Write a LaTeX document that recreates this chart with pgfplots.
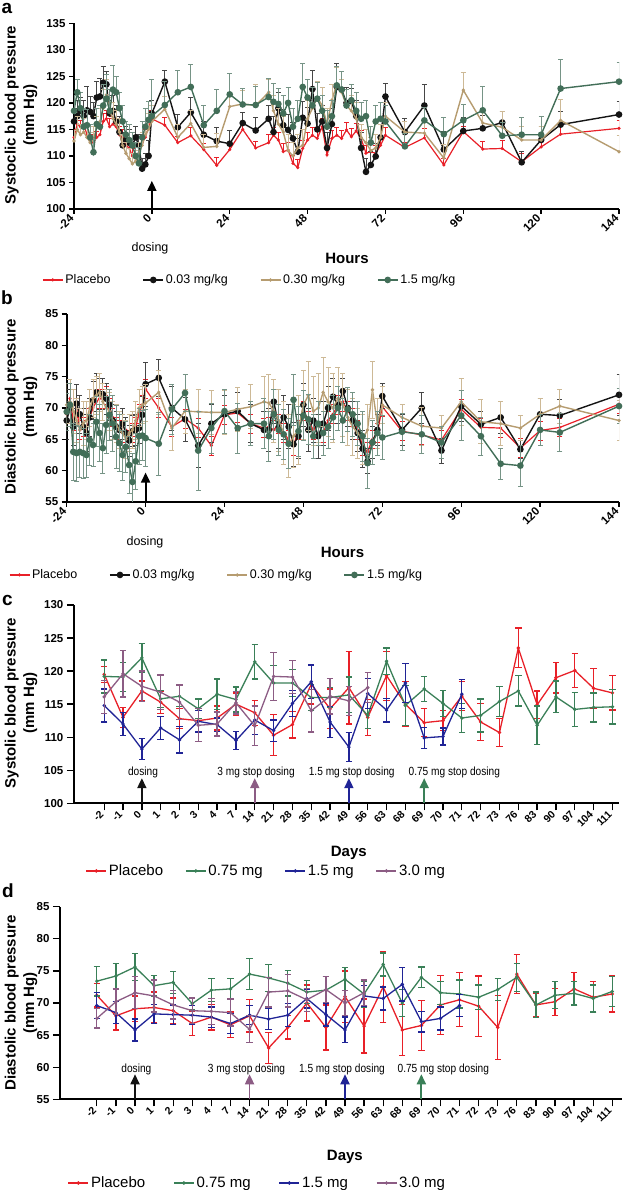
\documentclass[border=0pt]{standalone}
\usepackage{pgfplots}
\pgfplotsset{compat=1.18}
\usepackage{pgfplotstable}
\usepackage{fontspec}
\setmainfont{Liberation Sans}
\newfontfamily\narrowfont[FakeStretch=0.86]{Liberation Sans}
\usetikzlibrary{arrows.meta}

\definecolor{pred}{RGB}{232,32,40}
\definecolor{pblack}{RGB}{20,20,20}
\definecolor{pgray}{RGB}{70,70,70}
\definecolor{ptan}{RGB}{182,156,112}
\definecolor{ptanlt}{RGB}{205,185,150}
\definecolor{pgreen}{RGB}{66,110,88}
\definecolor{pgreenlt}{RGB}{118,148,134}
\definecolor{cgreen}{RGB}{58,128,88}
\definecolor{cblue}{RGB}{32,36,150}
\definecolor{cpurple}{RGB}{140,92,132}

\pgfplotstableread{
h P Pe B Be T Te G Ge
-24 113.5 1.5 116.5 2.5 112.8 2.0 118.5 3.0
-23 116.0 1.5 117.5 3.0 115.0 2.5 122.0 2.5
-22 115.5 1.2 118.5 2.5 114.0 2.0 119.0 3.0
-21 116.0 1.5 117.5 3.0 114.5 2.5 115.5 3.5
-20 114.0 1.5 118.6 4.5 113.5 2.5 115.8 3.0
-19 113.0 1.5 118.3 3.0 112.5 2.0 113.5 2.5
-18 112.5 1.5 117.5 2.5 113.0 2.5 110.7 2.5
-17 113.5 1.2 121.0 3.0 115.5 2.0 116.0 3.0
-16 114.0 1.5 121.2 3.5 116.5 2.5 115.5 4.0
-15 116.5 1.5 123.8 3.0 119.0 3.5 119.5 4.0
-14 117.0 1.5 123.5 2.5 121.5 3.0 120.8 4.5
-13 115.5 1.5 118.0 2.5 118.5 2.5 118.5 4.0
-12 116.0 1.5 118.5 3.0 117.0 3.0 122.5 4.5
-11 115.5 1.5 116.5 3.0 116.0 2.5 122.0 3.0
-10 114.0 1.5 114.5 3.0 114.5 2.5 119.0 3.0
-9 113.5 1.5 112.0 2.5 112.0 2.0 116.5 3.0
-8 112.0 1.2 113.0 2.5 110.5 2.0 114.0 2.5
-7 111.5 1.2 112.5 2.5 109.5 2.0 113.0 3.0
-6 110.0 1.5 112.0 2.5 108.5 2.0 112.0 2.5
-5 109.5 1.5 113.5 2.0 109.0 2.0 110.0 2.5
-4 110.5 1.5 112.0 2.0 110.5 2.0 108.6 3.0
-3 112.5 1.5 107.6 2.0 112.0 2.5 113.5 3.0
-2 113.5 1.5 108.4 2.0 114.0 2.5 115.5 3.5
-1 115.5 1.5 110.0 3.0 115.0 3.0 116.8 3.5
0 117.0 1.5 118.0 2.5 116.5 3.0 117.5 7.0
4 115.8 1.5 124.0 2.2 118.8 2.5 119.6 4.5
8 112.5 1.2 115.4 2.5 113.5 2.5 122.0 4.2
12 113.8 1.5 118.2 2.8 116.1 2.5 123.0 4.2
16 111.2 1.2 114.0 2.5 111.6 2.5 115.8 3.8
20 108.2 1.5 112.8 2.5 111.8 2.5 118.5 4.0
24 111.2 1.2 112.3 2.5 119.3 2.5 121.6 4.0
28 115.0 1.5 116.2 2.0 119.8 2.5 119.7 3.0
32 111.5 1.2 114.8 2.5 119.5 4.0 119.6 3.5
36 112.5 1.5 117.0 2.5 122.0 2.5 121.1 3.5
37.5 113.9 1.5 114.5 3.0 118.5 3.0 120.2 3.5
39 113.0 1.5 119.0 3.0 116.0 3.0 119.8 3.0
40.5 110.8 1.5 115.8 3.0 114.5 3.0 118.0 3.5
42 111.1 1.5 114.9 3.0 111.0 3.0 120.0 3.0
43.5 108.6 1.5 113.3 3.0 110.0 2.5 115.5 3.5
45 107.8 1.5 110.8 2.5 111.5 2.5 117.0 3.5
46.5 111.4 1.5 117.2 3.0 112.0 3.0 123.0 4.5
48 113.0 1.5 116.1 3.0 117.0 3.5 121.0 3.5
49.5 113.9 1.5 122.6 3.5 119.0 4.0 119.5 3.5
51 113.3 1.5 115.0 3.0 121.0 3.0 120.8 3.0
52.5 115.5 1.5 116.5 3.0 119.5 3.5 118.5 3.0
54 110.2 1.5 111.5 3.0 116.0 3.0 115.5 3.0
55.5 113.3 1.5 116.0 3.0 120.5 3.0 117.5 3.0
57 113.9 1.5 123.0 4.5 123.6 3.0 123.3 3.5
58.5 113.3 1.5 122.5 3.5 122.0 2.5 122.5 3.5
60 114.9 1.5 120.0 3.0 119.5 3.0 119.5 3.0
61.5 113.6 1.5 120.3 2.5 118.5 3.0 120.5 3.0
63 114.7 1.5 117.5 3.0 117.0 3.0 118.5 3.5
64.5 113.3 1.5 111.5 3.0 113.5 2.5 117.0 3.0
66 110.5 1.5 107.0 2.5 112.5 2.5 117.5 3.0
67.5 110.8 1.5 108.3 2.5 111.0 2.5 112.5 3.0
69 110.5 1.5 109.9 2.5 111.5 2.5 116.5 3.0
70.5 112.0 1.5 113.5 2.5 113.5 2.5 117.0 3.0
72 113.9 1.5 121.2 2.5 117.5 2.5 116.5 3.0
78 111.6 1.0 114.5 2.5 114.5 2.0 111.8 2.5
84 113.4 1.8 119.5 4.0 114.3 2.5 116.7 2.5
90 108.3 1.2 111.2 3.5 109.6 2.5 114.1 3.2
96 114.6 1.0 114.7 2.5 122.4 3.3 116.7 3.0
102 111.3 1.5 115.2 2.5 116.2 2.5 118.6 4.5
108 111.4 1.5 116.3 2.0 115.4 3.0 113.8 2.5
114 108.9 1.5 108.8 2.0 113.0 2.5 114.0 3.3
120 111.7 1.2 113.0 2.5 113.0 2.5 114.0 3.5
126 114.1 1.5 115.9 2.5 116.7 4.0 122.7 5.4
144 115.2 1.5 117.8 2.4 110.8 3.0 124.0 3.7
}\tabA

\pgfplotstableread{
h P Pe B Be T Te G Ge
-24 69.0 1.5 68.0 3.0 70.5 3.5 69.4 3.0
-23 71.5 1.5 70.0 3.0 71.0 3.5 70.5 3.5
-22 68.0 1.5 67.0 3.0 69.5 3.5 63.0 4.5
-21 70.0 1.5 70.7 3.0 68.0 3.5 62.8 4.5
-20 66.5 1.5 69.0 3.0 66.5 3.5 63.0 4.0
-19 67.0 1.5 67.0 3.0 67.5 3.5 62.8 4.0
-18 66.5 1.5 66.0 3.0 68.0 3.0 62.5 3.5
-17 68.5 1.5 68.5 3.0 70.0 3.0 64.9 4.0
-16 70.0 1.5 71.2 3.0 71.5 3.0 64.1 3.5
-15 71.0 1.5 72.5 3.0 72.0 3.0 67.8 4.0
-14 71.5 1.5 72.3 2.5 72.5 3.0 66.0 4.5
-13 71.5 1.5 72.2 2.5 71.0 3.0 63.6 4.0
-12 72.0 1.5 71.5 2.5 70.0 3.0 67.3 4.5
-11 70.0 1.5 70.5 2.5 69.5 3.0 68.9 4.0
-10 68.5 1.5 68.0 2.5 68.0 3.0 67.5 4.5
-9 67.0 1.5 67.0 2.5 67.5 3.0 65.4 5.0
-8 66.5 1.5 66.5 2.5 66.5 3.0 64.4 4.5
-7 66.0 1.5 67.5 2.5 66.0 3.0 62.5 4.0
-6 66.5 1.5 66.0 2.5 65.0 3.0 63.8 4.0
-5 65.0 1.5 64.8 2.5 66.0 3.0 60.9 4.5
-4 66.0 1.5 66.3 2.5 66.5 3.0 58.2 4.5
-3 67.0 1.5 66.5 2.5 68.0 3.0 61.5 4.5
-2 69.0 1.5 66.8 2.5 70.0 3.0 65.5 4.5
-1 70.5 1.5 68.9 3.0 70.5 3.0 65.6 4.0
0 73.0 1.5 73.8 3.5 70.8 3.0 65.2 4.5
4 70.0 1.5 74.8 3.0 72.5 3.5 64.3 5.0
8 67.0 1.5 70.0 3.5 66.8 3.5 69.8 4.0
12 68.3 1.5 68.2 3.5 69.5 3.5 72.4 3.0
16 66.8 1.5 64.0 3.5 69.4 3.5 63.2 6.3
20 64.0 1.5 67.5 3.0 69.3 3.5 66.8 4.0
24 68.9 1.5 69.0 3.0 69.3 3.5 69.5 3.5
28 69.2 1.5 69.5 3.0 69.8 3.5 66.8 4.0
32 67.5 1.5 67.5 3.0 70.2 3.5 67.5 3.5
36 66.8 1.5 66.5 3.0 71.0 4.0 67.5 4.0
37.5 67.0 1.5 66.5 3.5 70.8 4.5 65.5 4.0
39 66.5 1.5 71.0 3.5 69.5 5.0 69.0 4.0
40.5 67.5 1.5 67.0 3.5 68.0 5.0 66.5 4.0
42 66.0 1.5 68.5 3.5 66.0 5.0 65.8 4.0
43.5 65.0 1.5 67.0 3.5 64.0 5.0 64.3 4.0
45 64.0 1.5 64.2 3.5 65.5 5.0 71.3 4.0
46.5 66.5 1.5 65.5 3.5 66.5 5.5 66.3 4.0
48 69.5 1.5 70.5 3.5 70.5 5.5 68.8 4.0
49.5 68.0 1.5 66.5 3.5 72.0 5.5 68.2 4.0
51 66.5 1.5 68.0 3.5 69.5 5.5 65.5 3.5
52.5 67.5 1.5 65.5 3.5 70.0 5.5 67.5 3.5
54 66.0 1.5 67.5 3.5 72.5 5.5 66.0 3.5
55.5 68.0 1.5 70.0 3.5 71.0 5.5 67.0 3.5
57 69.0 1.5 71.8 3.0 70.0 5.5 68.5 3.5
58.5 70.5 1.5 70.5 3.0 71.5 5.0 70.0 3.5
60 71.0 1.5 72.7 2.0 70.5 5.0 68.0 3.5
61.5 69.5 1.5 70.0 3.0 68.5 4.5 69.8 3.5
63 68.5 1.5 68.0 3.0 67.0 4.5 69.0 3.5
64.5 66.5 1.5 66.0 3.0 66.0 4.0 67.5 3.5
66 64.0 1.5 63.5 3.0 65.0 4.0 65.5 4.0
67.5 63.0 1.5 61.5 2.0 66.5 4.0 61.2 4.0
69 65.0 1.5 64.5 2.5 72.9 4.5 64.5 3.5
70.5 66.0 1.5 66.5 2.5 67.5 4.0 66.0 3.5
72 70.2 1.5 71.9 2.0 70.5 3.0 65.3 3.5
78 66.3 1.5 66.5 2.5 68.5 2.0 66.2 3.0
84 65.7 1.5 70.0 2.5 67.1 3.0 65.8 3.0
90 64.9 1.5 63.2 2.0 66.8 2.0 64.5 2.5
96 69.8 1.5 70.3 2.5 71.0 3.7 68.8 4.0
102 66.9 1.5 67.4 2.0 67.8 3.5 65.5 3.0
108 66.8 1.5 68.5 2.5 67.5 3.5 61.1 2.5
114 63.6 1.5 63.4 1.5 66.8 2.0 60.8 3.3
120 66.4 1.5 69.0 2.5 69.0 2.5 66.5 2.5
126 66.9 1.5 68.8 2.5 70.3 2.7 66.1 3.0
144 70.6 1.5 72.1 3.3 68.0 3.2 70.3 2.8
}\tabB

\pgfplotstableread{
i P Pe G Ge B Be U Ue
0 119.5 1.2 119.2 2.5 114.8 2.5 116.1 2.5
1 113.0 1.5 119.1 2.2 112.0 1.7 119.6 3.5
2 117.0 1.5 122.0 2.2 108.2 1.6 117.7 2.3
3 115.3 1.7 115.8 1.3 111.4 1.7 116.8 2.6
4 112.8 1.5 116.2 1.6 109.6 2.0 115.3 2.6
5 112.5 1.8 114.3 1.5 112.4 1.6 111.8 2.5
6 112.9 1.8 116.5 2.3 111.9 1.0 112.0 1.8
7 115.0 1.7 115.7 1.9 109.5 1.4 115.2 1.7
8 113.7 1.9 121.4 2.6 112.6 2.2 111.7 3.0
9 110.3 3.1 118.2 2.6 111.0 1.6 119.2 3.6
10 111.9 2.0 118.2 2.0 115.1 2.0 119.1 2.5
11 118.0 3.0 116.0 2.0 118.4 2.5 114.0 3.2
12 114.3 3.0 116.0 1.5 112.3 2.3 116.2 2.7
13 117.5 5.5 116.4 2.7 108.5 2.2 115.5 2.2
14 113.0 2.7 113.3 2.0 116.6 2.3 117.5 2.3
15 119.3 3.7 121.5 2.0 114.1 1.8 nan nan
16 115.0 3.4 114.8 3.0 118.2 3.0 nan nan
17 112.2 2.1 117.3 1.9 109.9 1.6 nan nan
18 112.5 1.5 115.1 2.0 110.1 1.3 nan nan
19 116.2 2.2 112.9 2.2 116.5 2.2 nan nan
20 112.3 2.8 113.3 2.5 nan nan nan nan
21 110.7 2.1 115.4 2.3 nan nan nan nan
22 123.5 3.0 117.0 2.3 nan nan nan nan
23 114.9 2.1 111.8 2.9 nan nan nan nan
24 119.0 2.3 116.1 2.4 nan nan nan nan
25 120.1 2.6 114.2 2.6 nan nan nan nan
26 117.4 3.0 114.5 2.2 nan nan nan nan
27 116.7 2.6 114.6 2.6 nan nan nan nan
}\tabC

\pgfplotstableread{
i P Pe G Ge B Be U Ue
0 71.2 1.8 73.4 2.3 69.6 2.0 67.6 1.5
1 68.0 2.2 74.2 2.0 68.5 1.7 70.2 2.0
2 69.1 2.0 75.6 2.1 65.8 1.7 71.6 2.5
3 69.3 2.4 72.7 1.6 68.3 1.5 71.1 2.5
4 68.8 2.0 73.2 1.7 68.2 1.5 69.7 2.2
5 66.8 1.9 69.9 1.0 68.1 1.5 68.8 2.0
6 67.8 2.0 72.0 1.8 67.8 1.6 68.7 2.0
7 66.6 2.0 72.2 1.6 66.8 1.6 68.5 2.1
8 68.0 2.5 74.5 2.4 68.1 1.5 65.9 2.1
9 63.0 2.4 73.9 2.1 67.5 1.6 71.7 2.3
10 66.2 1.8 73.1 2.0 68.1 1.8 71.9 2.5
11 70.0 2.8 71.7 1.8 70.7 1.5 70.5 1.8
12 66.2 3.5 72.0 2.1 68.2 1.8 72.1 2.0
13 71.0 4.0 73.7 1.8 65.8 2.0 70.0 2.0
14 66.4 4.2 71.4 2.0 71.1 1.6 71.6 2.0
15 72.5 5.5 76.0 1.8 70.7 1.8 nan nan
16 65.8 4.0 70.0 2.1 72.9 2.6 nan nan
17 66.5 3.9 74.0 1.6 67.1 1.6 nan nan
18 69.7 4.6 71.6 1.8 67.6 1.8 nan nan
19 70.5 4.2 71.4 2.2 69.6 1.7 nan nan
20 69.5 4.7 70.9 1.9 nan nan nan nan
21 66.2 5.0 72.1 1.7 nan nan nan nan
22 74.5 3.0 74.0 2.2 nan nan nan nan
23 69.7 1.8 69.7 2.0 nan nan nan nan
24 70.2 2.1 71.2 2.1 nan nan nan nan
25 72.2 2.5 71.5 1.8 nan nan nan nan
26 70.9 2.4 70.7 2.1 nan nan nan nan
27 71.4 2.8 71.8 2.3 nan nan nan nan
}\tabD

\pgfplotsset{
  gp/.style={scale only axis, axis x line*=bottom, axis y line*=left,
    axis line style={line width=1.6pt},
    tick style={line width=1.3pt, black},
    tick align=outside, major tick length=5pt,
    ticklabel style={font=\bfseries\fontsize{11.5}{13}\selectfont},
    xticklabel style={rotate=45, anchor=east},
    clip mode=individual,
    legend style={draw=none, fill=none, legend columns=4, inner sep=0pt,
      anchor=west, legend cell align=left},
    legend image code/.code={\draw[mark repeat=2,mark phase=2,##1]
      plot coordinates {(0pt,0pt) (10pt,0pt) (20pt,0pt)};},
  },
  ebA/.style={error bars/.cd, y dir=plus, y explicit,
    error bar style={line width=0.8pt, color=#1},
    error mark options={rotate=90, mark size=2.5pt, line width=0.8pt, color=#1}},
  ebB/.style={error bars/.cd, y dir=both, y explicit,
    error bar style={line width=0.8pt, color=#1},
    error mark options={rotate=90, mark size=2.5pt, line width=0.8pt, color=#1}},
  ebC/.style={error bars/.cd, y dir=both, y explicit,
    error bar style={line width=1.3pt, color=#1},
    error mark options={rotate=90, mark size=3.2pt, line width=1.3pt, color=#1}},
}

\begin{document}
\begin{tikzpicture}[x=1pt,y=1pt]
\useasboundingbox (0,0) rectangle (623,1190);

% ---------------- panel a
\begin{axis}[gp, at={(74pt,981pt)}, anchor=south west, width=545pt, height=185.7pt,
  xmin=-24, xmax=144, ymin=100, ymax=135,
  xtick={-24,0,24,48,72,96,120,144}, xticklabels={-24,0,24,48,72,96,120,144},
  ytick={100,105,110,115,120,125,130,135}, yticklabels={100,105,110,115,120,125,130,135},
  legend style={at={(-0.0587,-0.382)}, font=\fontsize{12.5}{14}\selectfont,
    /tikz/every even column/.append style={column sep=30pt}}]
\addplot[color=pred, line width=1.2pt, mark=*, mark size=0.9pt, ebA=pred] table[x=h,y=P,y error=Pe]{\tabA};
\addlegendentry{Placebo}
\addplot[color=pblack, line width=1.4pt, mark=*, mark size=2.6pt, ebA=pgray] table[x=h,y=B,y error=Be]{\tabA};
\addlegendentry{0.03 mg/kg}
\addplot[color=ptan, line width=1.4pt, mark=*, mark size=0.9pt, ebA=ptanlt] table[x=h,y=T,y error=Te]{\tabA};
\addlegendentry{0.30 mg/kg}
\addplot[color=pgreen, line width=1.4pt, mark=*, mark size=2.6pt, ebA=pgreenlt] table[x=h,y=G,y error=Ge]{\tabA};
\addlegendentry{1.5 mg/kg}
\draw[line width=1.8pt, -{Triangle[width=9pt,length=10pt]}] (axis cs:0,100) -- (axis cs:0,105.3);
\end{axis}

% ---------------- panel b
\begin{axis}[gp, at={(66.7pt,688pt)}, anchor=south west, width=552.3pt, height=188pt,
  xmin=-24, xmax=144, ymin=55, ymax=85,
  xtick={-24,0,24,48,72,96,120,144}, xticklabels={-24,0,24,48,72,96,120,144},
  ytick={55,60,65,70,75,80,85}, yticklabels={55,60,65,70,75,80,85},
  legend style={at={(-0.105,-0.388)}, font=\fontsize{12.5}{14}\selectfont,
    /tikz/every even column/.append style={column sep=30pt}}]
\addplot[color=pred, line width=1.2pt, mark=*, mark size=0.9pt, ebB=pred] table[x=h,y=P,y error=Pe]{\tabB};
\addlegendentry{Placebo}
\addplot[color=pblack, line width=1.4pt, mark=*, mark size=2.6pt, ebB=pgray] table[x=h,y=B,y error=Be]{\tabB};
\addlegendentry{0.03 mg/kg}
\addplot[color=ptan, line width=1.4pt, mark=*, mark size=0.9pt, ebB=ptanlt] table[x=h,y=T,y error=Te]{\tabB};
\addlegendentry{0.30 mg/kg}
\addplot[color=pgreen, line width=1.4pt, mark=*, mark size=2.6pt, ebB=pgreenlt] table[x=h,y=G,y error=Ge]{\tabB};
\addlegendentry{1.5 mg/kg}
\draw[line width=1.8pt, -{Triangle[width=9pt,length=10pt]}] (axis cs:0,55) -- (axis cs:0,59.7);
\end{axis}

% ---------------- panel c
\begin{axis}[gp, at={(73.9pt,386.7pt)}, anchor=south west, width=545.1pt, height=198.3pt,
  xmin=-1.61, xmax=27.35, ymin=100, ymax=130, major tick length=7pt,
  xtick={0,...,27}, xticklabels={-2,-1,0,1,2,3,4,7,14,21,28,35,42,49,56,63,68,69,70,71,72,73,76,83,90,97,104,111},
  xticklabel style={font=\bfseries\fontsize{10.5}{12}\selectfont},
  ytick={100,105,110,115,120,125,130}, yticklabels={100,105,110,115,120,125,130},
  legend style={at={(0.0211,-0.341)}, font=\fontsize{15}{17}\selectfont,
    /tikz/every even column/.append style={column sep=20pt}}]
\addplot[color=pred, line width=1.3pt, mark=*, mark size=1pt, ebC=pred] table[x=i,y=P,y error=Pe]{\tabC};
\addlegendentry{Placebo}
\addplot[color=cgreen, line width=1.3pt, mark=*, mark size=1pt, ebC=cgreen] table[x=i,y=G,y error=Ge]{\tabC};
\addlegendentry{0.75 mg}
\addplot[color=cblue, line width=1.3pt, mark=*, mark size=1pt, ebC=cblue] table[x=i,y=B,y error=Be]{\tabC};
\addlegendentry{1.5 mg}
\addplot[color=cpurple, line width=1.3pt, mark=*, mark size=1pt, ebC=cpurple] table[x=i,y=U,y error=Ue]{\tabC};
\addlegendentry{3.0 mg}
\draw[pblack, line width=1.8pt, -{Triangle[width=9pt,length=10pt]}] (axis cs:2,100) -- (axis cs:2,103.8);
\draw[cpurple, line width=1.8pt, -{Triangle[width=9pt,length=10pt]}] (axis cs:8,100) -- (axis cs:8,103.8);
\draw[cblue, line width=1.8pt, -{Triangle[width=9pt,length=10pt]}] (axis cs:13,100) -- (axis cs:13,103.8);
\draw[cgreen, line width=1.8pt, -{Triangle[width=9pt,length=10pt]}] (axis cs:17,100) -- (axis cs:17,103.8);
\node[font=\narrowfont\fontsize{11.8}{12}\selectfont] at (axis cs:2.06,104.7) {dosing};
\node[font=\narrowfont\fontsize{11.8}{12}\selectfont] at (axis cs:8.07,104.7) {3 mg stop dosing};
\node[font=\narrowfont\fontsize{11.8}{12}\selectfont] at (axis cs:13.15,104.7) {1.5 mg stop dosing};
\node[font=\narrowfont\fontsize{11.8}{12}\selectfont] at (axis cs:18.6,104.7) {0.75 mg stop dosing};
\end{axis}

% ---------------- panel d
\begin{axis}[gp, at={(60pt,90.7pt)}, anchor=south west, width=561.8pt, height=192.6pt,
  xmin=-1.93, xmax=27.5, ymin=55, ymax=85, major tick length=7pt,
  xtick={0,...,27}, xticklabels={-2,-1,0,1,2,3,4,7,14,21,28,35,42,49,56,63,68,69,70,71,72,73,76,83,90,97,104,111},
  xticklabel style={font=\bfseries\fontsize{10.5}{12}\selectfont},
  ytick={55,60,65,70,75,80,85}, yticklabels={55,60,65,70,75,80,85},
  legend style={at={(0.0134,-0.4346)}, font=\fontsize{15}{17}\selectfont,
    /tikz/every even column/.append style={column sep=26pt}}]
\addplot[color=pred, line width=1.3pt, mark=*, mark size=1pt, ebC=pred] table[x=i,y=P,y error=Pe]{\tabD};
\addlegendentry{Placebo}
\addplot[color=cgreen, line width=1.3pt, mark=*, mark size=1pt, ebC=cgreen] table[x=i,y=G,y error=Ge]{\tabD};
\addlegendentry{0.75 mg}
\addplot[color=cblue, line width=1.3pt, mark=*, mark size=1pt, ebC=cblue] table[x=i,y=B,y error=Be]{\tabD};
\addlegendentry{1.5 mg}
\addplot[color=cpurple, line width=1.3pt, mark=*, mark size=1pt, ebC=cpurple] table[x=i,y=U,y error=Ue]{\tabD};
\addlegendentry{3.0 mg}
\draw[pblack, line width=1.8pt, -{Triangle[width=9pt,length=10pt]}] (axis cs:2,55) -- (axis cs:2,58.9);
\draw[cpurple, line width=1.8pt, -{Triangle[width=9pt,length=10pt]}] (axis cs:8,55) -- (axis cs:8,58.9);
\draw[cblue, line width=1.8pt, -{Triangle[width=9pt,length=10pt]}] (axis cs:13,55) -- (axis cs:13,58.9);
\draw[cgreen, line width=1.8pt, -{Triangle[width=9pt,length=10pt]}] (axis cs:17,55) -- (axis cs:17,58.9);
\node[font=\narrowfont\fontsize{11.8}{12}\selectfont] at (axis cs:2.07,59.6) {dosing};
\node[font=\narrowfont\fontsize{11.8}{12}\selectfont] at (axis cs:7.84,59.6) {3 mg stop dosing};
\node[font=\narrowfont\fontsize{11.8}{12}\selectfont] at (axis cs:12.84,59.6) {1.5 mg stop dosing};
\node[font=\narrowfont\fontsize{11.8}{12}\selectfont] at (axis cs:18.15,59.6) {0.75 mg stop dosing};
\end{axis}

% ---------------- text outside the axes
\node[font=\bfseries\fontsize{19}{20}\selectfont] at (7,1181) {a};
\node[font=\bfseries\fontsize{19}{20}\selectfont] at (7,892.5) {b};
\node[font=\bfseries\fontsize{19}{20}\selectfont] at (7.5,590) {c};
\node[font=\bfseries\fontsize{19}{20}\selectfont] at (8,299) {d};

\node[font=\bfseries\fontsize{15}{18.6}\selectfont, rotate=90, align=center] at (21,1075) {Systoclic blood pressure\\(mm Hg)};
\node[font=\bfseries\fontsize{15}{18.6}\selectfont, rotate=90, align=center] at (21,783) {Diastolic blood pressure\\(mm Hg)};
\node[font=\bfseries\fontsize{15}{18.6}\selectfont, rotate=90, align=center] at (21,487) {Systolic blood pressure\\(mm Hg)};
\node[font=\bfseries\fontsize{15}{18.6}\selectfont, rotate=90, align=center] at (21,187) {Diastolic blood pressure\\(mm Hg)};

\node[font=\bfseries\fontsize{15}{17}\selectfont] at (347,932) {Hours};
\node[font=\fontsize{12.5}{14}\selectfont] at (150,942) {dosing};
\node[font=\bfseries\fontsize{15}{17}\selectfont] at (342.5,638) {Hours};
\node[font=\fontsize{12.5}{14}\selectfont] at (145,648) {dosing};
\node[font=\bfseries\fontsize{15}{17}\selectfont] at (348.8,337) {Days};
\node[font=\bfseries\fontsize{15}{17}\selectfont] at (344.9,33.3) {Days};
\end{tikzpicture}
\end{document}
